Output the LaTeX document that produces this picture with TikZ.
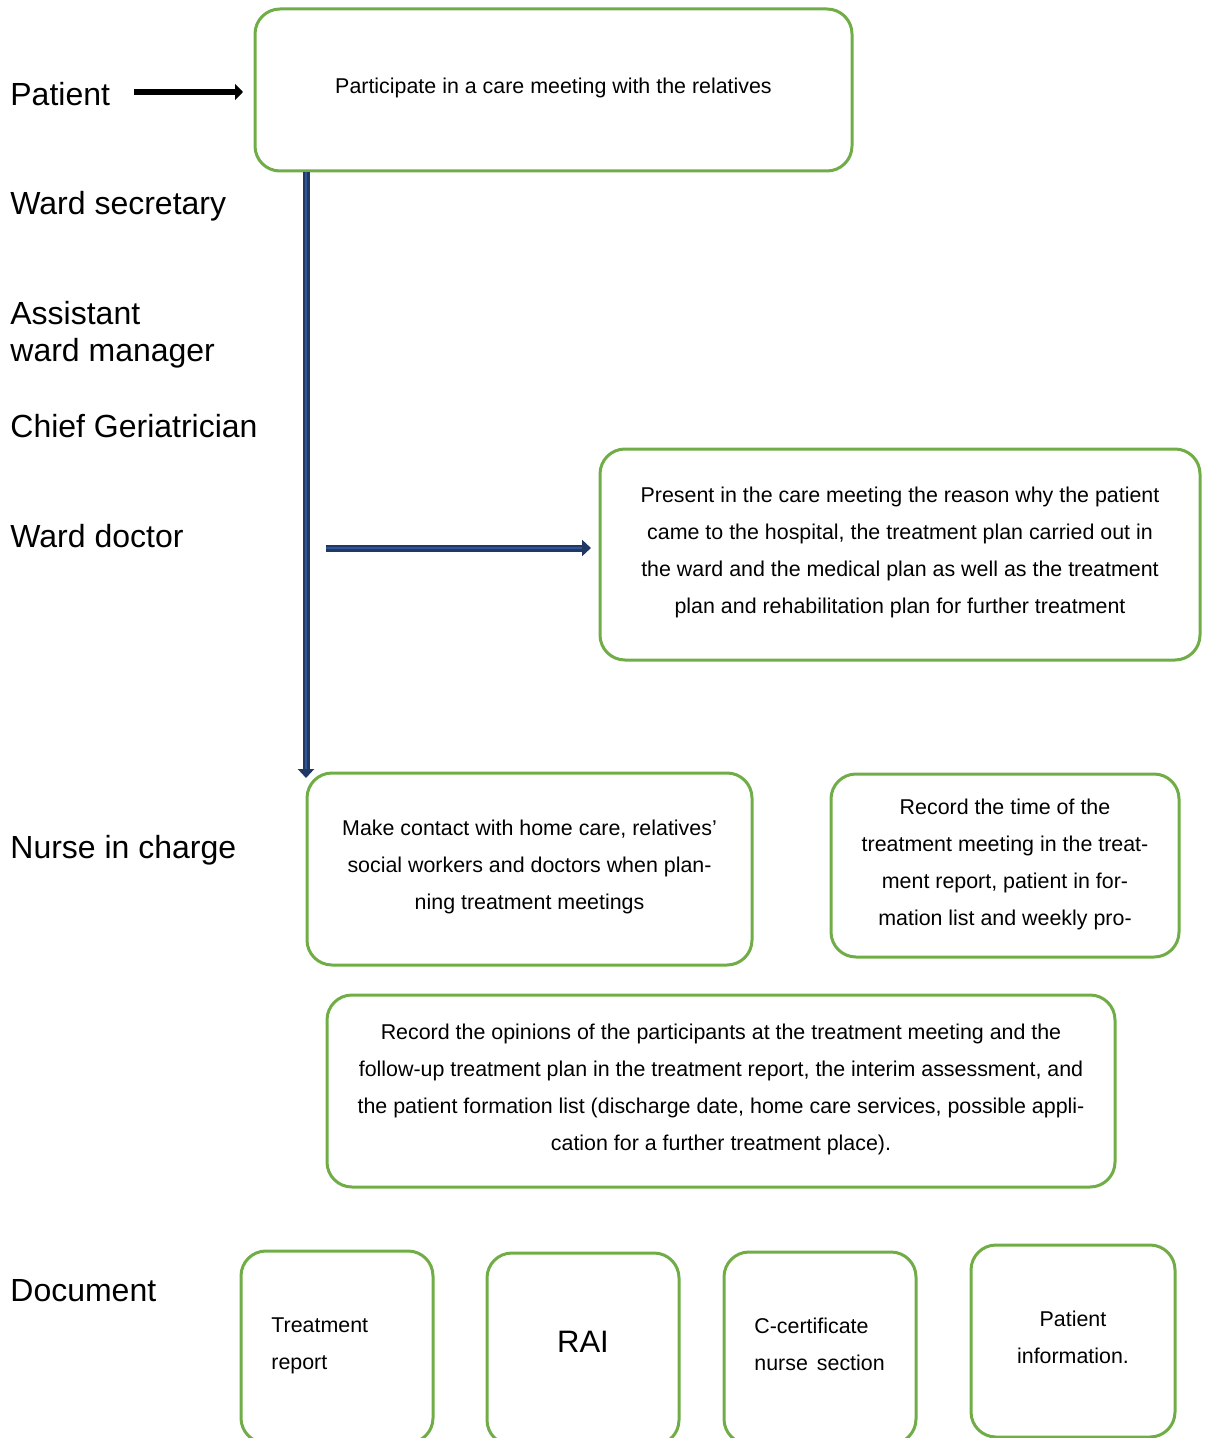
\documentclass[tikz,border=0pt]{standalone}
\usepackage{fontspec}
\setmainfont{Liberation Sans}
\usetikzlibrary{arrows.meta}
\definecolor{boxgreen}{HTML}{70AD47}
\definecolor{arrdark}{HTML}{1F3864}
\definecolor{arrblue}{HTML}{2F5597}
\tikzset{
	role/.style={anchor=west, align=left, inner sep=0pt, font=\fontsize{16}{18.5}\selectfont},
	task/.style={draw=boxgreen, line width=1.5pt, rounded corners=12.5pt},
	tasktext/.style={align=center, inner sep=0pt, font=\fontsize{10.7}{18.5}\selectfont},
	doctext/.style={tasktext, align=left, anchor=west},
	docbox/.style={task, minimum width=96pt, minimum height=96pt},
	blockarr/.style={draw=arrdark, line width=3.5pt, -{Triangle[length=4.5pt,width=8pt]}, postaction={draw=arrblue, line width=1.4pt, -, shorten >=4.5pt}},
	bigarr/.style={draw=black, line width=2.8pt, -{Triangle[length=4pt,width=8pt]}}
}
\begin{document}
\begin{tikzpicture}[x=0.5pt,y=-0.5pt]
	\useasboundingbox (0,0) rectangle (1208,1438);
	\clip (0,0) rectangle (1208,1438);
		% roles on the left
		\node[role] (patient) at (10,94) {Patient};
		\node[role] (secretary) at (10,206) {Ward secretary};
		\node[role] (assistant) at (10,334.5) {Assistant\\ward manager};
		\node[role] (chief) at (10,426) {Chief Geriatrician};
		\node[role] (doctor) at (10,536) {Ward doctor};
		\node[role] (nurse) at (10,850) {Nurse in charge};
		\node[role] (document) at (10,1291) {Document};
		% tasks
		\node[task, minimum width=298.5pt, minimum height=81pt] (meeting) at (553.5,90) {};
		\node[tasktext] (meetingtxt) at (553.5,88) {Participate in a care meeting with the relatives};
		\node[task, minimum width=300pt, minimum height=105.5pt] (present) at (900,554.5) {};
		\node[tasktext] (presenttxt) at (900,552.5) {Present in the care meeting the reason why the patient\\came to the hospital, the treatment plan carried out in\\the ward and the medical plan as well as the treatment\\plan and rehabilitation plan for further treatment};
		\node[task, minimum width=222.5pt, minimum height=96pt] (contact) at (529.5,869) {};
		\node[tasktext] (contacttxt) at (529.5,867) {Make contact with home care, relatives’\\social workers and doctors when plan-\\ning treatment meetings};
		\node[task, minimum width=174pt, minimum height=91.5pt] (rectime) at (1005,865.5) {};
		\node[tasktext] (rectimetxt) at (1005,864.5) {Record the time of the\\treatment meeting in the treat-\\ment report, patient in for-\\mation list and weekly pro-};
		\node[task, minimum width=394pt, minimum height=96pt] (opinions) at (721,1091) {};
		\node[tasktext] (opinionstxt) at (721,1089) {Record the opinions of the participants at the treatment meeting and the\\follow-up treatment plan in the treatment report, the interim assessment, and\\the patient formation list (discharge date, home care services, possible appli-\\cation for a further treatment place).};
		% documents
		\node[docbox] (report) at (337,1347) {};
		\node[doctext] (reporttxt) at (271,1346) {Treatment\\report};
		\node[docbox] (rai) at (583,1349) {};
		\node[tasktext, font=\fontsize{15.5}{18.5}\selectfont] (raitxt) at (583,1342) {RAI};
		\node[docbox] (cert) at (820,1348) {};
		\node[doctext] (certtxt) at (754,1344) {C-certificate\\nurse\hspace{0.42em}section};
		\node[docbox, minimum width=102pt] (pinfo) at (1073,1341) {};
		\node[tasktext] (pinfotxt) at (1073,1337) {Patient\\information.};
		% arrows
		\coordinate (ptail) at (134,92);
		\coordinate (phead) at (243,92);
		\coordinate (vend) at (306,778);
		\coordinate (htail) at (326,548);
		\coordinate (hhead) at (591,548);
		\draw[bigarr] (ptail) -- (phead);
		\draw[blockarr] (meeting.south -| vend) -- (vend);
		\draw[blockarr] (htail) -- (hhead);
\end{tikzpicture}
\end{document}
